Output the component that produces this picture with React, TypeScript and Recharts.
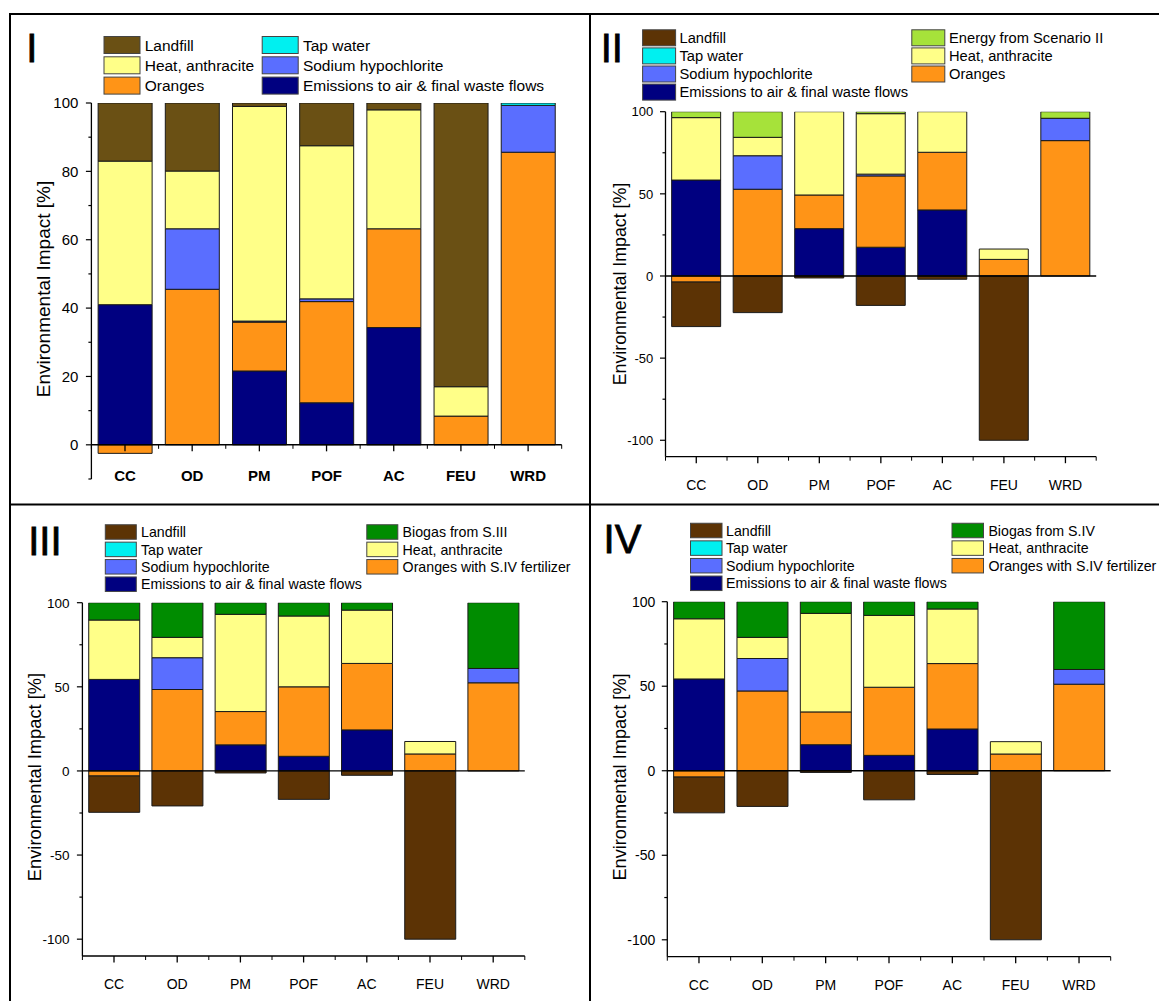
import React from 'react';
import { BarChart, Bar, XAxis, YAxis, ReferenceLine } from 'recharts';

const categories = ['CC', 'OD', 'PM', 'POF', 'AC', 'FEU', 'WRD'];

// Panel I (% of impact, stacked; negatives stack down from zero)
const p1Emissions = [41.0, 0, 21.6, 12.3, 34.3, 0, 0];
const p1Oranges = [-2.5, 45.5, 14.3, 29.6, 28.9, 8.4, 85.6];
const p1Sodium = [0, 17.7, 0.3, 0.8, 0, 0, 13.7];
const p1TapWater = [0, 0, 0, 0, 0, 0, 0.7];
const p1Heat = [42.0, 16.9, 62.8, 44.8, 34.8, 8.6, 0];
const p1Landfill = [17.0, 19.9, 1.0, 12.5, 2.0, 83.0, 0];

// Panel II
const p2Emissions = [58.4, 0, 28.8, 17.5, 40.2, 0, 0];
const p2Oranges = [-3.7, 52.8, 20.5, 43.4, 35.1, 10.1, 82.4];
const p2Sodium = [0, 20.4, 0, 1.1, 0, 0, 13.6];
const p2TapWater = [0, 0, 0, 0, 0, 0, 0];
const p2Heat = [38.0, 11.2, 50.7, 36.8, 24.7, 6.3, 0];
const p2Landfill = [-27.1, -22.3, -1.2, -17.9, -2.0, -100, 0];
const p2Energy = [3.6, 15.6, 0, 1.2, 0, 0, 4.0];

// Panel III
const p3Emissions = [54.4, 0, 15.5, 8.7, 24.4, 0, 0];
const p3Oranges = [-3.0, 48.4, 19.8, 41.3, 39.5, 10.1, 52.4];
const p3Sodium = [0, 18.9, 0, 0, 0, 0, 8.5];
const p3TapWater = [0, 0, 0, 0, 0, 0, 0];
const p3Heat = [35.3, 12.1, 57.8, 42.1, 31.7, 7.4, 0];
const p3Landfill = [-21.6, -20.8, -1.2, -16.9, -2.6, -100, 0];
const p3Biogas = [10.3, 20.6, 6.9, 7.9, 4.4, 0, 39.1];

// Panel IV
const p4Emissions = [54.3, 0, 15.4, 9.1, 24.7, 0, 0];
const p4Oranges = [-3.75, 47.2, 19.4, 40.3, 38.7, 9.9, 51.2];
const p4Sodium = [0, 19.2, 0, 0, 0, 0, 8.7];
const p4TapWater = [0, 0, 0, 0, 0, 0, 0];
const p4Heat = [35.6, 12.5, 58.3, 42.5, 32.3, 7.3, 0];
const p4Landfill = [-21.15, -21.1, -1.0, -17.2, -2.2, -100, 0];
const p4Biogas = [10.1, 21.1, 6.9, 8.1, 4.3, 0, 40.1];

const ticksI = [-10, 0, 10, 20, 30, 40, 50, 60, 70, 80, 90, 100];
const ticksOther = [-100, -75, -50, -25, 0, 25, 50, 75, 100];

const COLORS = {
  landfillI: '#6a5014',
  landfill: '#5c3305',
  heat: '#ffff88',
  oranges: '#ff9417',
  sodium: '#5a6eff',
  tap: '#00f0f0',
  emissions: '#000080',
  energy: '#a6e23a',
  biogas: '#008c00',
};

const FONT = "'Liberation Sans', Arial, sans-serif";
const Y_AXIS_W = 60;
const X_AXIS_H = 20;

type Series = { key: string; color: string };
type Row = Record<string, number | string>;

const buildRows = (cols: Record<string, number[]>): Row[] =>
  categories.map((name, i) => {
    const row: Row = { name };
    Object.keys(cols).forEach((k) => {
      row[k] = cols[k][i];
    });
    return row;
  });

const dataI = buildRows({
  emissions: p1Emissions, oranges: p1Oranges, sodium: p1Sodium,
  tap: p1TapWater, heat: p1Heat, landfill: p1Landfill,
});
const dataII = buildRows({
  emissions: p2Emissions, oranges: p2Oranges, sodium: p2Sodium,
  tap: p2TapWater, heat: p2Heat, landfill: p2Landfill, extra: p2Energy,
});
const dataIII = buildRows({
  emissions: p3Emissions, oranges: p3Oranges, sodium: p3Sodium,
  tap: p3TapWater, heat: p3Heat, landfill: p3Landfill, extra: p3Biogas,
});
const dataIV = buildRows({
  emissions: p4Emissions, oranges: p4Oranges, sodium: p4Sodium,
  tap: p4TapWater, heat: p4Heat, landfill: p4Landfill, extra: p4Biogas,
});

const baseSeries = (landfill: string): Series[] => [
  { key: 'emissions', color: COLORS.emissions },
  { key: 'oranges', color: COLORS.oranges },
  { key: 'sodium', color: COLORS.sodium },
  { key: 'tap', color: COLORS.tap },
  { key: 'heat', color: COLORS.heat },
  { key: 'landfill', color: landfill },
];
const seriesI = baseSeries(COLORS.landfillI);
const seriesII = [...baseSeries(COLORS.landfill), { key: 'extra', color: COLORS.energy }];
const seriesIII = [...baseSeries(COLORS.landfill), { key: 'extra', color: COLORS.biogas }];

interface PanelProps {
  left: number;
  top: number;
  width: number;
  height: number;
  margin: { top: number; right: number; bottom: number; left: number };
  data: Row[];
  series: Series[];
  domain: [number, number];
  yTicks: number[];
  yStep: number;
  yFont: number;
  yGap: number;
  xFont: number;
  xBold?: boolean;
  xAtZero?: boolean;
  xLabelDy: number;
}

const Panel: React.FC<PanelProps> = ({
  left, top, width, height, margin, data, series, domain, yTicks, yStep,
  yFont, yGap, xFont, xBold = false, xAtZero = false, xLabelDy,
}) => {
  const plotW = width - margin.left - margin.right - Y_AXIS_W;
  const plotH = height - margin.top - margin.bottom - X_AXIS_H;
  const band = plotW / categories.length;
  // panel I draws its category axis on the zero line
  const zeroOff = xAtZero ? (plotH * (0 - domain[0])) / (domain[1] - domain[0]) : 0;

  const renderXTick = (p: any) => {
    const { x, y, payload, index } = p;
    const y0 = y - zeroOff;
    const half = band / 2;
    return (
      <g>
        <line x1={x} x2={x} y1={y0} y2={y0 + 6.5} stroke="#000" strokeWidth={1.3} />
        <line x1={x - half} x2={x - half} y1={y0} y2={y0 + 4} stroke="#000" strokeWidth={1} />
        {index === categories.length - 1 && (
          <line x1={x + half} x2={x + half} y1={y0} y2={y0 + 4} stroke="#000" strokeWidth={1} />
        )}
        <text
          x={x}
          y={y0 + xLabelDy + xFont * 0.36}
          textAnchor="middle"
          fontSize={xFont}
          fontWeight={xBold ? 700 : 400}
          fontFamily={FONT}
          fill="#000"
        >
          {payload.value}
        </text>
      </g>
    );
  };

  const renderYTick = (p: any) => {
    const { x, y, payload } = p;
    const v = payload.value as number;
    const major = v % yStep === 0;
    return (
      <g>
        <line x1={x - (major ? 5.5 : 3)} x2={x} y1={y} y2={y} stroke="#000" strokeWidth={1.2} />
        {major && (
          <text
            x={x - yGap}
            y={y + yFont * 0.36}
            textAnchor="end"
            fontSize={yFont}
            fontFamily={FONT}
            fill="#000"
          >
            {v}
          </text>
        )}
      </g>
    );
  };

  return (
    <div style={{ position: 'absolute', left, top, width, height }}>
      <BarChart
        width={width}
        height={height}
        data={data}
        margin={margin}
        stackOffset="sign"
        barCategoryGap="10%"
      >
        {series.map((s) => (
          <Bar
            key={s.key}
            dataKey={s.key}
            stackId="a"
            fill={s.color}
            stroke="#1a1a1a"
            strokeWidth={1}
            isAnimationActive={false}
          />
        ))}
        <ReferenceLine y={0} stroke="#000" strokeWidth={xAtZero ? 1.6 : 1.3} />
        <XAxis
          dataKey="name"
          height={X_AXIS_H}
          interval={0}
          tickSize={0}
          tickMargin={0}
          tickLine={false}
          axisLine={xAtZero ? false : { stroke: '#000', strokeWidth: 1.3 }}
          tick={renderXTick}
        />
        <YAxis
          type="number"
          width={Y_AXIS_W}
          domain={domain}
          allowDataOverflow
          ticks={yTicks}
          interval={0}
          tickSize={0}
          tickMargin={0}
          tickLine={false}
          axisLine={{ stroke: '#000', strokeWidth: 1.3 }}
          tick={renderYTick}
        />
      </BarChart>
    </div>
  );
};

type LegendLayout = {
  cols: { sx: number; tx: number }[];
  row0: number;
  pitch: number;
  sw: number;
  sh: number;
  font: number;
};
type LegendItem = { label: string; color: string };

const legendItemsI: LegendItem[][] = [
  [
    { label: 'Landfill', color: COLORS.landfillI },
    { label: 'Heat, anthracite', color: COLORS.heat },
    { label: 'Oranges', color: COLORS.oranges },
  ],
  [
    { label: 'Tap water', color: COLORS.tap },
    { label: 'Sodium hypochlorite', color: COLORS.sodium },
    { label: 'Emissions to air & final waste flows', color: COLORS.emissions },
  ],
];
const commonLeft: LegendItem[] = [
  { label: 'Landfill', color: COLORS.landfill },
  { label: 'Tap water', color: COLORS.tap },
  { label: 'Sodium hypochlorite', color: COLORS.sodium },
  { label: 'Emissions to air & final waste flows', color: COLORS.emissions },
];
const legendItemsII: LegendItem[][] = [
  commonLeft,
  [
    { label: 'Energy from Scenario II', color: COLORS.energy },
    { label: 'Heat, anthracite', color: COLORS.heat },
    { label: 'Oranges', color: COLORS.oranges },
  ],
];
const legendItemsIII: LegendItem[][] = [
  commonLeft,
  [
    { label: 'Biogas from S.III', color: COLORS.biogas },
    { label: 'Heat, anthracite', color: COLORS.heat },
    { label: 'Oranges with S.IV fertilizer', color: COLORS.oranges },
  ],
];
const legendItemsIV: LegendItem[][] = [
  commonLeft,
  [
    { label: 'Biogas from S.IV', color: COLORS.biogas },
    { label: 'Heat, anthracite', color: COLORS.heat },
    { label: 'Oranges with S.IV fertilizer', color: COLORS.oranges },
  ],
];

const Legend: React.FC<{ items: LegendItem[][]; layout: LegendLayout }> = ({ items, layout }) => (
  <g>
    {items.map((col, ci) =>
      col.map((it, ri) => {
        const cy = layout.row0 + ri * layout.pitch;
        const c = layout.cols[ci];
        return (
          <g key={`${ci}-${ri}`}>
            <rect
              x={c.sx}
              y={cy - layout.sh / 2}
              width={layout.sw}
              height={layout.sh}
              fill={it.color}
              stroke="#444"
              strokeWidth={1}
            />
            <text x={c.tx} y={cy + layout.font * 0.36} fontSize={layout.font} fontFamily={FONT} fill="#000">
              {it.label}
            </text>
          </g>
        );
      }),
    )}
  </g>
);

const YTitle: React.FC<{ cx: number; cy: number; size: number }> = ({ cx, cy, size }) => (
  <text
    transform={`translate(${cx},${cy}) rotate(-90)`}
    textAnchor="middle"
    dominantBaseline="central"
    fontSize={size}
    fontFamily={FONT}
    fill="#000"
  >
    Environmental Impact [%]
  </text>
);

const Numeral: React.FC<{ x: number; y: number; text: string }> = ({ x, y, text }) => (
  <text x={x} y={y} fontSize={40} fontFamily={FONT} fill="#000" stroke="#000" strokeWidth={0.8}>
    {text}
  </text>
);

export default function App() {
  return (
    <div
      style={{
        position: 'absolute',
        left: 0,
        top: 0,
        width: 1159,
        height: 1001,
        background: '#fff',
        overflow: 'hidden',
        fontFamily: FONT,
      }}
    >
      <Panel
        left={0}
        top={0}
        width={590}
        height={500}
        margin={{ top: 103, right: 28.3, bottom: 1, left: 31.4 }}
        data={dataI}
        series={seriesI}
        domain={[-10, 100]}
        yTicks={ticksI}
        yStep={20}
        yFont={15}
        yGap={13}
        xFont={15}
        xBold
        xAtZero
        xLabelDy={30.7}
      />
      <Panel
        left={590}
        top={0}
        width={569}
        height={500}
        margin={{ top: 111.7, right: 62.8, bottom: 23.3, left: 15.5 }}
        data={dataII}
        series={seriesII}
        domain={[-110, 100]}
        yTicks={ticksOther}
        yStep={50}
        yFont={13}
        yGap={12.2}
        xFont={14}
        xLabelDy={28.3}
      />
      <Panel
        left={0}
        top={500}
        width={590}
        height={501}
        margin={{ top: 102.7, right: 65.2, bottom: 25, left: 22.4 }}
        data={dataIII}
        series={seriesIII}
        domain={[-110, 100]}
        yTicks={ticksOther}
        yStep={50}
        yFont={13.5}
        yGap={12.8}
        xFont={14}
        xLabelDy={28}
      />
      <Panel
        left={590}
        top={500}
        width={569}
        height={501}
        margin={{ top: 101.7, right: 48.3, bottom: 24.3, left: 17.3 }}
        data={dataIV}
        series={seriesIII}
        domain={[-110, 100]}
        yTicks={ticksOther}
        yStep={50}
        yFont={14}
        yGap={12}
        xFont={14}
        xLabelDy={28.3}
      />

      <svg
        width={1159}
        height={1001}
        style={{ position: 'absolute', left: 0, top: 0, pointerEvents: 'none' }}
      >
        {/* panel frame */}
        <line x1={9} x2={1159} y1={14} y2={14} stroke="#000" strokeWidth={2} />
        <line x1={10} x2={10} y1={13} y2={1001} stroke="#000" strokeWidth={2} />
        <line x1={590} x2={590} y1={13} y2={1001} stroke="#000" strokeWidth={2} />
        <line x1={9} x2={1159} y1={504.5} y2={504.5} stroke="#000" strokeWidth={2} />

        <Numeral x={26.2} y={61.7} text="I" />
        <Numeral x={600.7} y={61.7} text="II" />
        <Numeral x={28.2} y={555} text="III" />
        <Numeral x={603.6} y={553.3} text="IV" />

        <Legend
          items={legendItemsI}
          layout={{ cols: [{ sx: 104, tx: 144.7 }, { sx: 262.2, tx: 302.9 }], row0: 45, pitch: 20.3, sw: 36, sh: 17, font: 15.5 }}
        />
        <Legend
          items={legendItemsII}
          layout={{ cols: [{ sx: 642.6, tx: 679.5 }, { sx: 911.8, tx: 949 }], row0: 37.8, pitch: 18.1, sw: 33, sh: 16, font: 14.7 }}
        />
        <Legend
          items={legendItemsIII}
          layout={{ cols: [{ sx: 105.3, tx: 141 }, { sx: 366.8, tx: 402.6 }], row0: 532, pitch: 17.4, sw: 31, sh: 14.5, font: 14.2 }}
        />
        <Legend
          items={legendItemsIV}
          layout={{ cols: [{ sx: 690.5, tx: 726 }, { sx: 952, tx: 988.4 }], row0: 530.5, pitch: 17.6, sw: 31.5, sh: 14.5, font: 14.2 }}
        />

        <YTitle cx={43} cy={289} size={19} />
        <YTitle cx={620} cy={284} size={17.8} />
        <YTitle cx={34.8} cy={777} size={18.3} />
        <YTitle cx={619.5} cy={777} size={18.2} />
      </svg>
    </div>
  );
}
